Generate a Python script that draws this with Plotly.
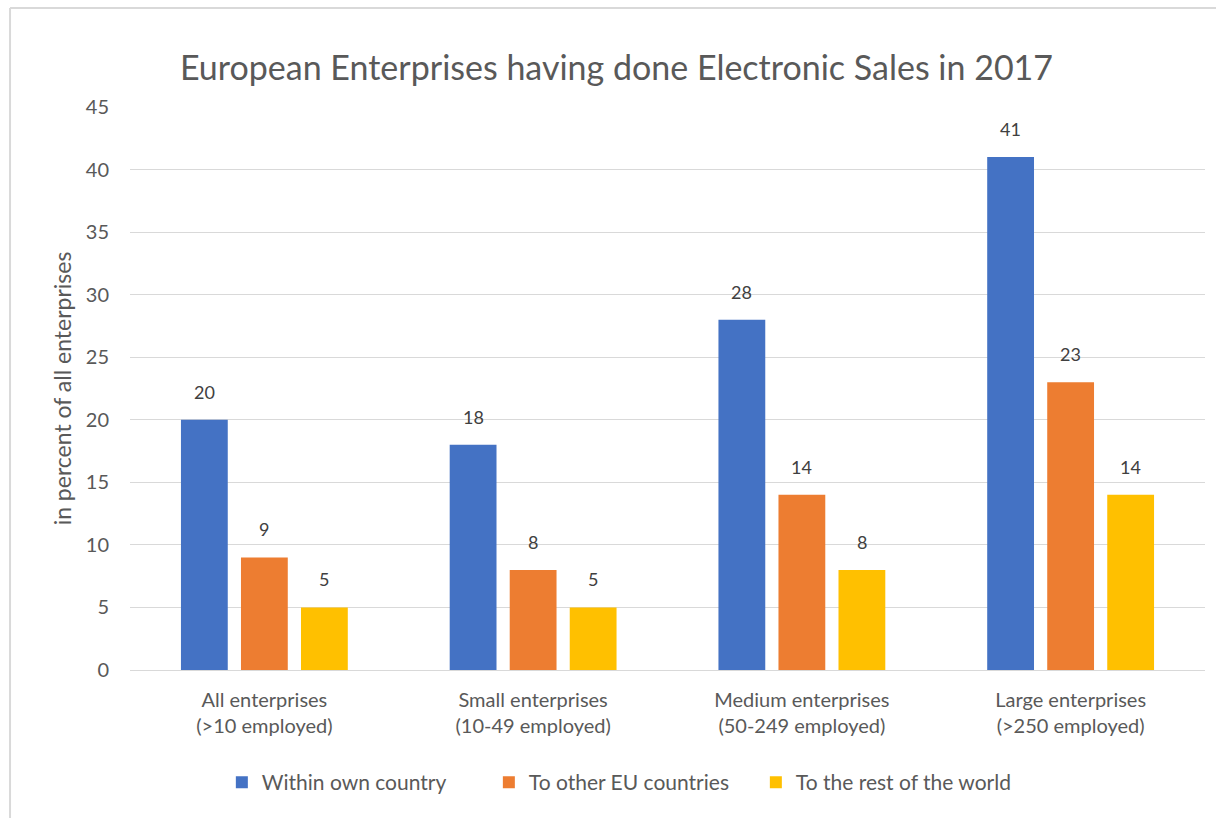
import plotly.graph_objects as go

# Enterprise size groups (x-axis categories)
categories = [
    "All enterprises<br>(>10 employed)",
    "Small enterprises<br>(10-49 employed)",
    "Medium enterprises<br>(50-249 employed)",
    "Large enterprises<br>(>250 employed)",
]

# Share of enterprises with electronic sales, in percent
within_own_country = [20, 18, 28, 41]
to_other_eu = [9, 8, 14, 23]
to_rest_of_world = [5, 5, 8, 14]

series_names = ["Within own country", "To other EU countries", "To the rest of the world"]
y_ticks = [0, 5, 10, 15, 20, 25, 30, 35, 40, 45]

colors = ["#4472C4", "#ED7D31", "#FFC000"]
text_color = "#595959"
label_color = "#404040"
font_family = "Lato, 'Open Sans', sans-serif"

all_series = [within_own_country, to_other_eu, to_rest_of_world]

fig = go.Figure()
for name, vals, col in zip(series_names, all_series, colors):
    fig.add_trace(go.Bar(
        x=categories,
        y=vals,
        name=name,
        marker=dict(color=col, line=dict(width=0)),
    ))

# Value labels above each bar; horizontal shift places them over the grouped bar
slot_px = 60
annotations = []
for i, vals in enumerate(all_series):
    shift = (i - 1) * slot_px
    for cat, v in zip(categories, vals):
        annotations.append(dict(
            x=cat, y=v, xref="x", yref="y",
            text=str(v), showarrow=False,
            xshift=shift, yshift=15, yanchor="bottom",
            font=dict(size=18, color=label_color, family=font_family),
        ))

fig.update_layout(
    width=1216,
    height=818,
    margin=dict(l=130, r=11, t=107, b=148),
    paper_bgcolor="white",
    plot_bgcolor="white",
    font=dict(family=font_family, color=text_color, size=19),
    barmode="group",
    bargap=0.33,
    bargroupgap=0.22,
    title=dict(
        text="European Enterprises having done Electronic Sales in 2017",
        x=0.507, xanchor="center",
        y=1 - 68 / 818, yanchor="middle", yref="container",
        font=dict(size=34, color=text_color, family=font_family),
    ),
    xaxis=dict(
        showgrid=False,
        showline=True,
        linecolor="#D9D9D9",
        linewidth=1,
        ticks="",
        ticklabelstandoff=12,
        tickfont=dict(size=20, color=text_color),
    ),
    yaxis=dict(
        range=[0, 45],
        tickvals=y_ticks,
        showgrid=True,
        gridcolor="#D9D9D9",
        gridwidth=1,
        zeroline=False,
        showline=False,
        ticks="",
        ticklabelstandoff=20,
        tickfont=dict(size=20, color=text_color),
        title=dict(text="in percent of all enterprises", font=dict(size=23, color=text_color), standoff=7),
    ),
    legend=dict(
        orientation="h",
        x=0.458, xanchor="center",
        y=-0.2, yanchor="middle",
        font=dict(size=21, color=text_color),
        itemwidth=30,
        entrywidth=222,
        entrywidthmode="pixels",
        traceorder="normal",
    ),
    annotations=annotations,
    shapes=[
        # chart frame: top and left edges
        dict(type="line", xref="paper", yref="paper", x0=-0.1116, x1=1.02, y0=1.1758, y1=1.1758,
             line=dict(color="#D9D9D9", width=2)),
        dict(type="line", xref="paper", yref="paper", x0=-0.1116, x1=-0.1116, y0=1.1758, y1=-0.3,
             line=dict(color="#D9D9D9", width=2)),
    ],
)

fig.write_html("out.html")
